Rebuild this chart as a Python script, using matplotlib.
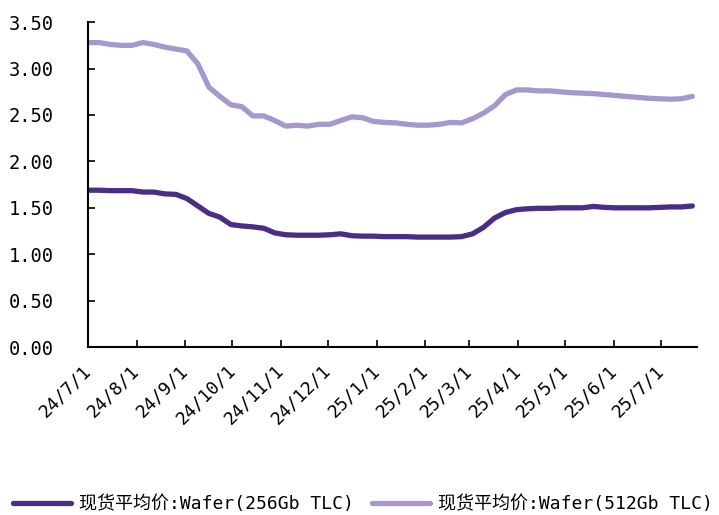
import matplotlib
matplotlib.use("Agg")
import matplotlib.pyplot as plt
import pandas as pd

plt.rcParams['font.family'] = ['DejaVu Sans Mono', 'Noto Sans CJK SC']

dates = pd.date_range("2024-07-01", periods=56, freq="7D")

wafer_512 = [3.28, 3.28, 3.26, 3.25, 3.25, 3.28, 3.26, 3.23, 3.21, 3.19,
             3.05, 2.80, 2.70, 2.61, 2.59, 2.49, 2.49, 2.44, 2.38, 2.39,
             2.38, 2.40, 2.40, 2.44, 2.48, 2.47, 2.43, 2.42, 2.415, 2.40,
             2.39, 2.39, 2.40, 2.42, 2.415, 2.46, 2.52, 2.60, 2.72, 2.77,
             2.77, 2.76, 2.76, 2.75, 2.74, 2.735, 2.73, 2.72, 2.71, 2.70,
             2.69, 2.68, 2.675, 2.67, 2.675, 2.70]

wafer_256 = [1.69, 1.69, 1.685, 1.685, 1.685, 1.67, 1.67, 1.65, 1.645, 1.60,
             1.52, 1.44, 1.40, 1.32, 1.305, 1.295, 1.28, 1.23, 1.21, 1.205,
             1.205, 1.205, 1.21, 1.22, 1.20, 1.195, 1.195, 1.19, 1.19, 1.19,
             1.185, 1.185, 1.185, 1.185, 1.19, 1.22, 1.29, 1.39, 1.45, 1.48,
             1.49, 1.495, 1.495, 1.50, 1.50, 1.50, 1.515, 1.505, 1.50, 1.50,
             1.50, 1.50, 1.505, 1.51, 1.51, 1.52]

labels = ["现货平均价:Wafer(256Gb TLC)", "现货平均价:Wafer(512Gb TLC)"]
tick_dates = pd.date_range("2024-07-01", "2025-07-01", freq="MS")
tick_labels = [f"{d.year % 100}/{d.month}/1" for d in tick_dates]
yticks = [0.0, 0.5, 1.0, 1.5, 2.0, 2.5, 3.0, 3.5]

c_dark = "#4B2D85"
c_light = "#A697CE"

fig = plt.figure(figsize=(7.19, 5.15), dpi=100)
ax = fig.add_axes([0.1224, 0.326, 0.847, 0.631])

ax.plot(dates, wafer_256, color=c_dark, lw=3.8, solid_capstyle='round', solid_joinstyle='round', label=labels[0])
ax.plot(dates, wafer_512, color=c_light, lw=3.8, solid_capstyle='round', solid_joinstyle='round', label=labels[1])

ax.set_ylim(0, 3.5)
ax.set_yticks(yticks)
ax.set_yticklabels([f"{v:.2f}" for v in yticks], fontsize=13.5)
ax.set_xlim(pd.Timestamp("2024-07-01"), pd.Timestamp("2025-07-24"))
ax.set_xticks(tick_dates)
ax.set_xticklabels(tick_labels, rotation=45, ha='right', va='center',
                   rotation_mode='anchor', fontsize=13)

for s in ['top', 'right']:
    ax.spines[s].set_visible(False)
for s in ['left', 'bottom']:
    ax.spines[s].set_linewidth(1.5)
    ax.spines[s].set_color('black')
ax.tick_params(axis='both', direction='in', length=5, width=1.2, colors='black')
ax.tick_params(axis='y', pad=25)
ax.tick_params(axis='x', pad=15)

fig.legend(loc='lower center', bbox_to_anchor=(0.505, -0.028), ncol=2, frameon=False,
           fontsize=13, handlelength=3.2, handletextpad=0.45, columnspacing=1.0)

fig.savefig("out.png", dpi=100)
